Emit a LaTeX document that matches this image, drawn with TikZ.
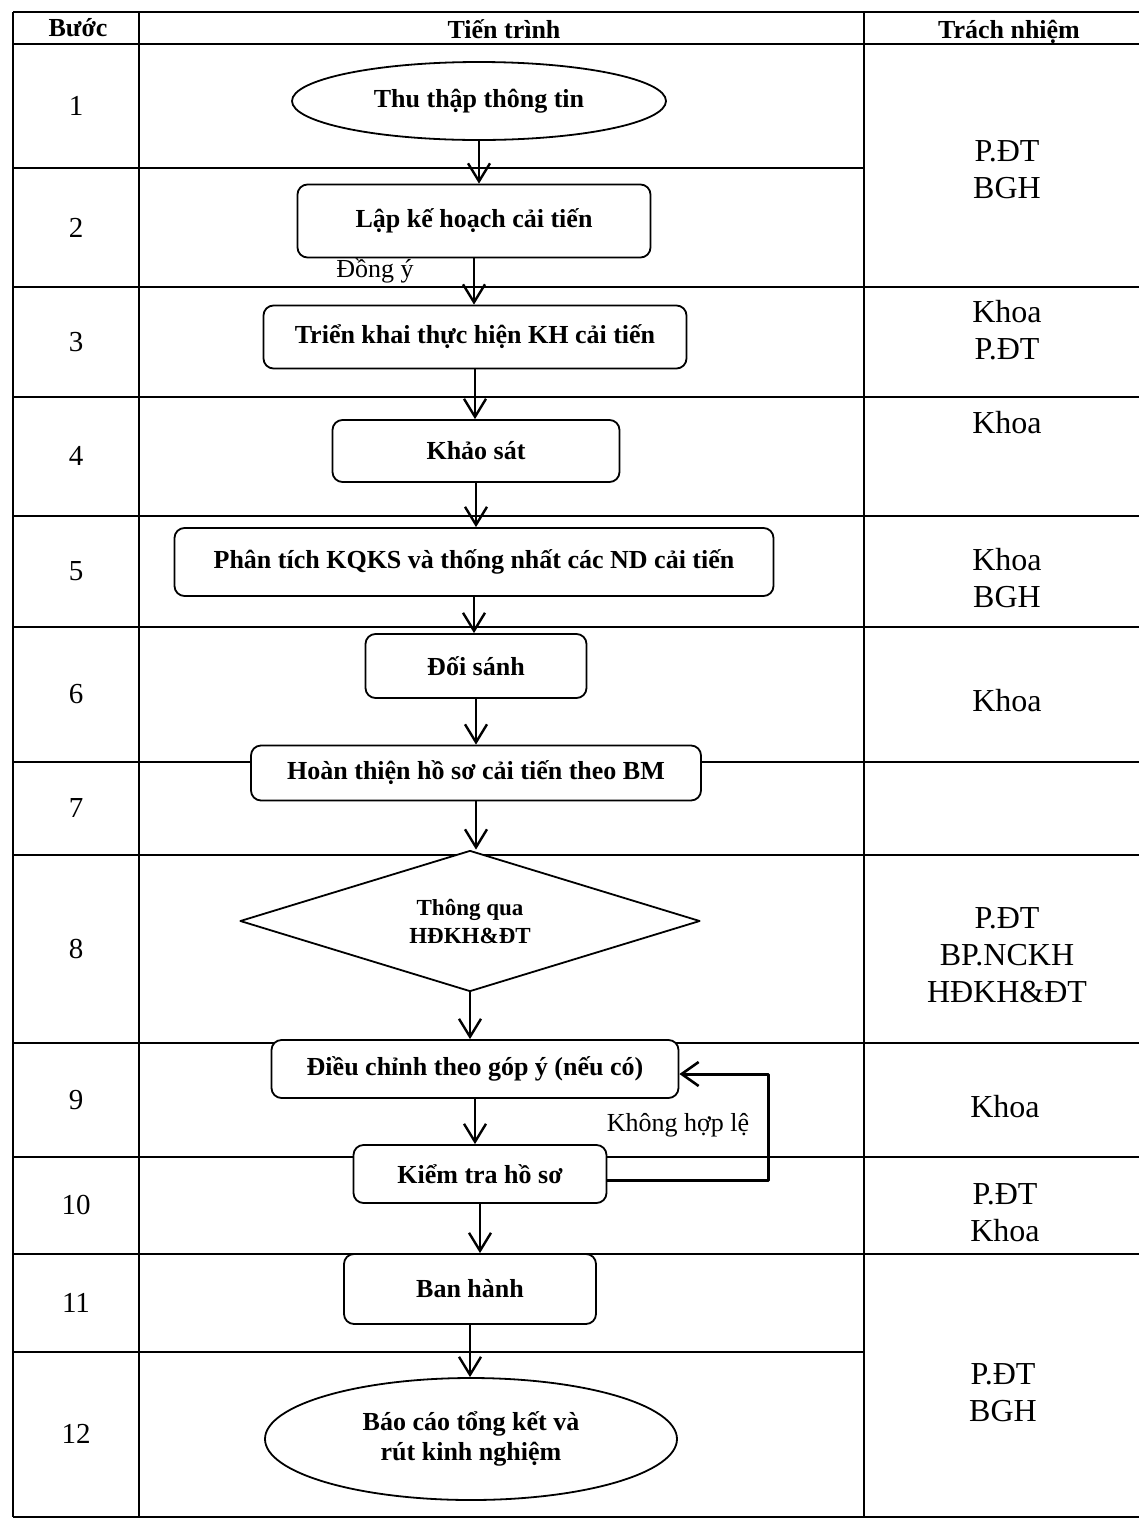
\documentclass[tikz,border=0pt]{standalone}
\usepackage{fontspec}
\setmainfont{Liberation Serif}
\usetikzlibrary{shapes.geometric,arrows.meta}
\newcommand{\boxfont}{\bfseries\fontsize{26}{30}\selectfont}
\tikzset{
	box/.style={draw,line width=1.8pt,rounded corners=10pt,fill=white,font=\boxfont,inner sep=2pt},
	terminal/.style={ellipse,draw,line width=1.8pt,fill=white,font=\boxfont,align=center,inner sep=0pt},
	decision/.style={diamond,draw,line width=1.8pt,fill=white,align=center,inner sep=0pt,font=\bfseries\fontsize{23}{28}\selectfont},
	flow/.style={line width=2.4pt,-{Straight Barb[length=18pt,width=22pt,line width=2.4pt]}},
	loopline/.style={line width=3pt,-{Straight Barb[length=17pt,width=24pt,line width=2.6pt]}},
	grid line/.style={line width=1.4pt},
	headtext/.style={font=\bfseries\fontsize{26}{30}\selectfont},
	num/.style={font=\fontsize{29}{32}\selectfont},
	who/.style={align=center,font=\fontsize{32}{37}\selectfont},
	note/.style={font=\fontsize{26}{30}\selectfont}
}
\begin{document}
\begin{tikzpicture}[x=1pt,y=-1pt,line join=round]
	\useasboundingbox (0,0) rectangle (1139,1519);
	\def\xa{13} \def\xb{139} \def\xc{864} \def\xd{1139}
	% bang
	\draw[grid line] (\xa,12)--(\xd,12);
	\foreach \y in {44,287,397,516,627,762,855,1043,1157,1254,1517}
		\draw[grid line] (\xa,\y)--(\xd,\y);
	\foreach \y in {168,1352}
		\draw[grid line] (\xa,\y)--(\xc,\y);
	\draw[grid line] (\xa,12)--(\xa,1517) (\xb,12)--(\xb,1517) (\xc,12)--(\xc,1517);
	\node[headtext] (hbuoc) at (78,28) {Bước};
	\node[headtext] (htien) at (504,29) {Tiến trình};
	\node[headtext] (htrach) at (1009,32) {Trách nhiệm};
	\foreach \n/\y in {1/106,2/228,3/342,4/456,5/571,6/694,7/808,8/949,9/1100,10/1205,11/1303,12/1434}
		\node[num] (s\n) at (76,\y) {\n};
	% tien trinh
	\node[terminal,minimum width=374pt,minimum height=78pt] (thu) at (479,101) {Thu thập thông tin};
	\node[box,minimum width=353pt,minimum height=73pt] (lap) at (474,221) {Lập kế hoạch cải tiến};
	\node[box,minimum width=423pt,minimum height=63pt] (trienkhai) at (475,337) {Triển khai thực hiện KH cải tiến};
	\node[box,minimum width=287pt,minimum height=62pt] (khaosat) at (476,451) {Khảo sát};
	\node[box,minimum width=599pt,minimum height=68pt] (phantich) at (474,562) {Phân tích KQKS và thống nhất các ND cải tiến};
	\node[box,minimum width=221pt,minimum height=64pt] (doisanh) at (476,666) {Đối sánh};
	\node[box,minimum width=450pt,minimum height=55pt] (hoanthien) at (476,773) {Hoàn thiện hồ sơ cải tiến theo BM};
	\node[decision,minimum width=460pt,minimum height=141pt,aspect=3.26] (thongqua) at (470,921) {Thông qua\\HĐKH\&ĐT};
	\node[box,minimum width=407pt,minimum height=58pt] (dieuchinh) at (475,1069) {Điều chỉnh theo góp ý (nếu có)};
	\node[box,minimum width=253pt,minimum height=58pt] (kiemtra) at (480,1174) {Kiểm tra hồ sơ};
	\node[box,minimum width=252pt,minimum height=70pt] (banhanh) at (470,1289) {Ban hành};
	\node[terminal,minimum width=412pt,minimum height=122pt] (baocao) at (471,1439) {Báo cáo tổng kết và\\rút kinh nghiệm};
	\foreach \a/\b in {thu/lap,lap/trienkhai,trienkhai/khaosat,khaosat/phantich,phantich/doisanh,doisanh/hoanthien,hoanthien/thongqua,thongqua/dieuchinh,dieuchinh/kiemtra,kiemtra/banhanh,banhanh/baocao}
		\draw[flow] (\a.south) -- (\a.south |- \b.north);
	\node[note] (dongy) at (375,271) {Đồng ý};
	\coordinate (back) at (768,1120);
	\draw[loopline] ([yshift=-6pt]kiemtra.east) -| (back) |- ([yshift=-5pt]dieuchinh.east);
	\node[note] (khong) at (678,1125) {Không hợp lệ};
	% trach nhiem
	\node[who] (r12) at (1007,170) {P.ĐT\\BGH};
	\node[who] (r3) at (1007,330) {Khoa\\P.ĐT};
	\node[who] (r4) at (1007,423) {Khoa};
	\node[who] (r5) at (1007,578) {Khoa\\BGH};
	\node[who] (r6) at (1007,701) {Khoa};
	\node[who] (r8) at (1007,955) {P.ĐT\\BP.NCKH\\HĐKH\&ĐT};
	\node[who] (r9) at (1005,1107) {Khoa};
	\node[who] (r10) at (1005,1213) {P.ĐT\\Khoa};
	\node[who] (r1112) at (1003,1393) {P.ĐT\\BGH};
\end{tikzpicture}
\end{document}
